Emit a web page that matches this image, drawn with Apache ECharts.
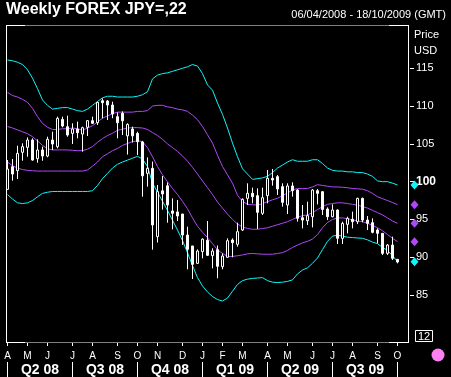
<!DOCTYPE html>
<html><head><meta charset="utf-8">
<script src="https://cdn.jsdelivr.net/npm/echarts@6.0.0/dist/echarts.min.js"></script>
<style>html,body{margin:0;padding:0;background:#000;}#c{width:451px;height:377px;}</style>
</head><body><div id="c"></div>
<script>
// weekly categories 06/04/2008 .. 18/10/2009
const categories = [];
for (let k = 0; k < 81; k++) {
  categories.push(new Date(Date.UTC(2008, 3, 6 + 7 * k)).toISOString().slice(0, 10));
}
const monthInitials = ['J','F','M','A','M','J','J','A','S','O','N','D'];
const quarterLabels = ['Q2 08','Q3 08','Q4 08','Q1 09','Q2 09','Q3 09'];
const yTickValues = [85, 90, 95, 100, 105, 110, 115];

const open = [98.98,101.98,101.45,103.88,104.54,105.51,103.04,104.19,103.39,105.51,
104.63,108.24,107.27,106.39,106.97,106.30,107.19,108.07,107.80,110.71,
110.67,110.14,108.60,109.04,106.06,106.97,106.39,105.25,101.10,101.76,
92.72,98.79,99.45,96.12,95.99,95.72,92.94,91.49,89.19,90.74,
92.24,90.21,91.00,88.75,89.99,92.28,91.71,93.60,97.79,98.46,
98.15,95.81,98.15,100.44,100.66,99.34,96.91,99.43,98.90,95.23,
94.83,95.36,98.81,98.67,96.38,95.36,96.25,92.50,94.35,95.01,
94.70,97.79,94.92,94.57,93.60,93.16,90.51,91.61,89.72];
const close = [101.67,101.01,103.74,104.63,105.51,102.86,104.19,103.39,105.60,104.98,
108.38,107.36,106.17,106.97,106.48,107.14,108.07,107.72,110.49,110.45,
110.14,108.95,107.80,108.05,107.58,106.06,105.29,100.77,101.76,94.27,
98.68,98.37,96.91,95.81,95.46,92.94,91.04,89.06,90.82,92.39,
90.25,90.82,88.80,90.16,92.19,91.93,93.38,97.66,98.46,98.01,
95.94,97.88,100.44,100.22,99.03,97.26,99.43,98.81,95.15,94.92,
95.50,98.89,98.45,96.33,95.36,96.25,92.50,94.48,95.14,94.70,
97.79,94.92,94.48,93.29,93.16,90.51,91.61,89.85,89.37];
const low = [98.98,100.13,100.35,102.77,103.30,102.77,102.51,102.77,103.22,104.19,
104.41,107.19,105.95,104.98,105.73,103.97,106.04,107.63,107.50,108.38,
108.16,108.40,105.73,106.17,103.58,105.18,103.53,98.01,99.34,91.00,
91.95,96.30,94.57,93.69,94.79,91.62,88.40,87.12,89.10,89.85,
90.16,88.53,87.21,88.40,89.99,89.99,91.40,93.47,96.91,97.13,
93.74,95.59,97.13,99.47,98.24,96.69,95.72,98.01,94.71,93.82,
94.26,93.95,96.99,95.59,94.92,95.28,91.75,91.75,93.16,93.82,
94.39,94.62,93.60,93.16,91.84,90.29,90.29,89.63,89.19];
const high = [102.86,103.00,104.76,105.07,105.86,105.73,105.60,104.63,105.95,106.61,
108.60,108.60,108.73,107.72,107.94,107.27,108.16,108.60,110.58,111.02,
110.80,110.58,109.17,109.30,107.72,107.28,106.61,105.40,103.22,102.65,
99.56,100.75,99.90,97.79,97.57,95.72,94.04,91.49,91.04,92.50,
94.79,91.18,91.55,90.52,92.50,92.50,94.57,97.79,99.78,99.21,
99.12,99.21,101.54,101.68,100.88,99.78,99.78,99.91,98.99,96.91,
97.35,99.03,99.03,98.76,96.60,97.00,96.33,94.70,95.36,96.03,
97.88,97.88,95.45,95.14,93.82,93.16,91.75,92.72,89.72];

const upper2 = [116.1,116.0,115.8,115.5,114.8,113.7,112.3,110.8,110.1,109.6,
109.7,109.8,109.8,109.6,109.4,109.3,109.6,110.1,110.6,111.1,
111.3,111.3,111.2,111.2,111.2,111.2,111.3,111.5,111.9,113.6,
114.1,114.3,114.4,114.6,114.8,115.0,115.2,115.5,115.3,114.3,
112.8,112.1,110.4,108.9,107.1,105.1,103.3,101.7,101.0,100.3,
100.4,100.5,100.7,101.2,101.8,102.2,102.6,102.9,102.7,102.7,
102.7,102.9,102.9,102.4,101.8,101.5,101.4,101.4,101.3,101.3,
101.2,101.2,101.0,100.7,100.1,100.0,100.0,99.8,99.56];
const upper1 = [111.8,111.4,111.2,110.9,110.5,109.7,108.6,107.7,107.2,106.9,
106.9,107.0,107.0,107.1,107.0,106.8,107.1,107.4,107.9,108.4,
108.7,109.0,109.2,109.2,109.2,109.2,109.3,109.3,109.4,110.0,
110.1,110.1,109.9,109.8,109.6,109.5,109.3,108.8,108.2,107.3,
106.2,105.1,103.5,102.0,100.9,99.8,98.2,97.4,97.0,96.95,
96.9,97.1,97.35,97.6,97.8,98.15,98.5,98.9,99.1,99.1,
99.1,99.3,99.6,99.5,99.4,99.3,99.3,99.25,99.2,99.1,
99.05,99.0,98.8,98.45,98.0,97.75,97.5,97.25,96.95];
const middle = [107.3,107.1,106.85,106.6,106.35,105.95,105.4,104.8,104.35,104.2,
104.2,104.2,104.2,104.15,104.1,104.1,104.3,104.65,105.2,105.7,
106.1,106.4,106.8,106.95,107.1,107.15,107.15,107.1,106.9,106.5,
106.1,105.6,105.0,104.5,104.0,103.4,102.7,101.9,101.0,100.1,
99.2,98.3,97.3,96.5,95.7,95.0,94.4,94.0,93.8,93.7,
93.7,93.8,93.9,94.1,94.3,94.5,94.7,95.0,95.3,95.5,
95.6,95.9,96.3,96.7,97.0,97.1,97.2,97.2,97.1,97.0,
96.9,96.7,96.5,96.2,95.9,95.6,95.2,94.8,94.48];
const lower1 = [102.6,102.1,101.8,101.6,101.5,101.45,101.4,101.4,101.4,101.4,
101.4,101.4,101.4,101.4,101.4,101.4,101.55,102.05,102.6,103.3,
103.7,104.1,104.4,104.8,105.05,105.3,105.4,105.3,104.5,103.3,
102.0,100.9,100.0,99.1,98.3,97.4,96.4,95.2,94.1,93.3,
92.6,91.8,91.0,90.5,90.1,90.1,90.2,90.3,90.45,90.5,
90.45,90.4,90.4,90.4,90.5,90.6,90.9,91.3,91.6,91.9,
92.1,92.4,93.0,93.9,94.6,95.0,95.2,95.2,95.1,94.95,
94.8,94.7,94.5,94.2,93.9,93.5,93.0,92.5,92.06];
const lower2 = [98.3,97.7,97.2,97.1,97.2,97.5,98.0,98.45,98.6,98.7,
98.7,98.7,98.7,98.7,98.7,98.7,98.7,98.8,99.5,100.4,
101.1,101.8,102.3,102.6,102.85,103.1,103.35,103.0,102.0,99.8,
98.6,97.4,96.2,94.9,93.6,92.2,90.6,88.9,87.3,86.2,
85.4,84.8,84.4,84.2,84.6,85.5,86.4,86.9,87.1,87.2,
87.25,87.3,86.9,86.7,86.65,86.7,86.8,87.0,87.8,88.3,
88.6,89.2,89.9,91.0,92.1,92.8,92.9,92.8,92.65,92.6,
92.55,92.5,92.3,92.0,91.8,91.3,90.9,90.2,89.4];

const CYAN = '#10f4fa', PURPLE = '#b048f8';
const FONT = 'Liberation Sans, Arial, sans-serif';

function dt(i) { return new Date(categories[i] + 'T00:00:00Z'); }
function isMonthStart(i) { return dt(i).getUTCDate() <= 7; }
function isQuarterStart(i) { const d = dt(i); return d.getUTCDate() <= 7 && d.getUTCMonth() % 3 === 0; }
const quarterStarts = categories.map((c, i) => i).filter(isQuarterStart);
const quarterLabelAt = {};
quarterLabels.forEach((q, k) => { quarterLabelAt[quarterStarts[k] + 6] = q; });

const candleData = open.map((o, i) => [o, close[i], low[i], high[i]]);
const last = open.length - 1;

function band(data, color) {
  return {
    type: 'line', data: data, symbol: 'none', z: 2,
    lineStyle: { color: color, width: 1 }, itemStyle: { color: color },
    markPoint: {
      symbol: 'diamond', symbolSize: [8, 9], symbolOffset: [17, 0],
      label: { show: false }, itemStyle: { color: color },
      data: [{ coord: [last, data[last]] }]
    },
    animation: false
  };
}

const chart = echarts.init(document.getElementById('c'), null, { renderer: 'canvas' });
chart.setOption({
  backgroundColor: '#000',
  animation: false,
  textStyle: { fontFamily: FONT },
  title: [
    { text: 'Weekly FOREX JPY=,22', left: 6, top: 2, padding: 0,
      textStyle: { color: '#fff', fontSize: 16, fontWeight: 'bold', fontFamily: FONT } },
    { text: '06/04/2008 - 18/10/2009 (GMT)', right: 5, top: 9, padding: 0,
      textStyle: { color: '#fff', fontSize: 11, fontWeight: 'normal', fontFamily: FONT } },
    { text: 'Price\nUSD', left: 414, top: 27, padding: 0,
      textStyle: { color: '#fff', fontSize: 11, fontWeight: 'normal', lineHeight: 16, fontFamily: FONT } },
    { text: '12', left: 415, top: 330, padding: [1, 3, 0, 3], borderColor: '#fff', borderWidth: 1,
      textStyle: { color: '#fff', fontSize: 11, fontWeight: 'normal', fontFamily: FONT } }
  ],
  grid: { left: 5, top: 25, width: 405, height: 318, containLabel: false },
  xAxis: [
    { type: 'category', data: categories, boundaryGap: true, position: 'bottom',
      axisLine: { show: false },
      axisTick: { show: true, alignWithLabel: true, length: 3, interval: (i) => isMonthStart(i),
        lineStyle: { color: '#fff', width: 1 } },
      axisLabel: { interval: (i) => isMonthStart(i), margin: 8, color: '#fff', fontSize: 10, fontFamily: FONT,
        formatter: (v) => monthInitials[new Date(v + 'T00:00:00Z').getUTCMonth()] },
      splitLine: { show: false } },
    { type: 'category', data: categories, boundaryGap: true, position: 'bottom', offset: 19,
      axisLine: { show: false },
      axisTick: { show: true, alignWithLabel: true, length: 15, interval: (i) => isQuarterStart(i),
        lineStyle: { color: '#fff', width: 1 } },
      axisLabel: { interval: (i) => quarterLabelAt[i] !== undefined, margin: 1, color: '#fff',
        fontSize: 14, fontWeight: 'bold', fontFamily: 'Liberation Sans Narrow, Liberation Sans, Arial',
        padding: [0, 0, 0, 5],
        formatter: (v, i) => quarterLabelAt[i] || '' },
      splitLine: { show: false } }
  ],
  yAxis: {
    type: 'value', position: 'right', min: 78.65, max: 120.73, scale: true,
    axisLine: { show: false }, splitLine: { show: false },
    axisTick: { show: true, length: 4, customValues: yTickValues, lineStyle: { color: '#fff' } },
    axisLabel: { customValues: yTickValues, margin: 6, color: '#fff', fontSize: 11, fontFamily: FONT,
      formatter: (v) => v === 100 ? '{b|100}' : String(v),
      rich: { b: { fontWeight: 'bold', fontSize: 12, color: '#fff', fontFamily: FONT } } }
  },
  series: [
    band(upper2, CYAN), band(upper1, PURPLE), band(middle, PURPLE), band(lower1, PURPLE), band(lower2, CYAN),
    { type: 'candlestick', data: candleData, z: 3, barWidth: 3,
      itemStyle: { color: '#000', color0: '#fff', borderColor: '#fff', borderColor0: '#fff', borderWidth: 1 } }
  ],
  graphic: [
    { type: 'line', shape: { x1: 6.5, y1: 25, x2: 6.5, y2: 343 }, style: { stroke: '#fff', lineWidth: 1 }, z: 10 },
    { type: 'line', shape: { x1: 408.5, y1: 25, x2: 408.5, y2: 343 }, style: { stroke: '#fff', lineWidth: 1 }, z: 10 },
    { type: 'line', shape: { x1: 6, y1: 25.5, x2: 409, y2: 25.5 }, style: { stroke: '#808080', lineWidth: 1 }, z: 10 },
    { type: 'line', shape: { x1: 6, y1: 342.5, x2: 409, y2: 342.5 }, style: { stroke: '#808080', lineWidth: 1 }, z: 10 },
    { type: 'line', shape: { x1: 6, y1: 25.5, x2: 25, y2: 25.5 }, style: { stroke: '#fff', lineWidth: 1 }, z: 11 },
    { type: 'line', shape: { x1: 389, y1: 25.5, x2: 409, y2: 25.5 }, style: { stroke: '#fff', lineWidth: 1 }, z: 11 },
    { type: 'line', shape: { x1: 6, y1: 342.5, x2: 25, y2: 342.5 }, style: { stroke: '#fff', lineWidth: 1 }, z: 11 },
    { type: 'line', shape: { x1: 389, y1: 342.5, x2: 409, y2: 342.5 }, style: { stroke: '#fff', lineWidth: 1 }, z: 11 },
    { type: 'circle', shape: { cx: 438, cy: 355, r: 6.5 }, style: { fill: '#ff80f2' }, z: 10 }
  ]
});
</script>
</body></html>
